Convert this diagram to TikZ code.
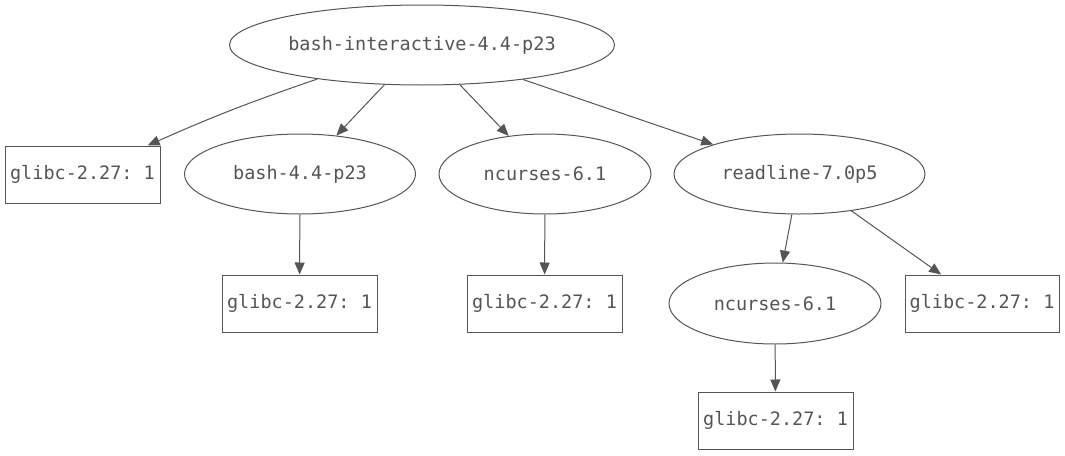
\documentclass[tikz,border=0pt]{standalone}
\usepackage{fontspec}
\setmonofont{DejaVu Sans Mono}
\usetikzlibrary{shapes.geometric,arrows.meta}
\definecolor{gv}{HTML}{555555}
\tikzset{
  base/.style={draw=gv, line width=1pt, text=gv, inner sep=0pt,
    font=\ttfamily\fontsize{18.5pt}{21pt}\selectfont},
  ell/.style={base, ellipse, minimum height=80pt},
  pkg/.style={base, rectangle, minimum width=155pt, minimum height=57pt},
  dep/.style={draw=gv, line width=1pt, -{Triangle[length=12pt,width=10pt]}, fill=none},
}
\begin{document}
\begin{tikzpicture}[x=1pt,y=-1pt]
\useasboundingbox (0,0) rectangle (1065,455);
\node[ell, minimum width=385pt] (root) at (422,45) {bash-interactive-4.4-p23};
\node[pkg] (g1) at (82.5,174.5) {glibc-2.27: 1};
\node[ell, minimum width=231pt] (bash) at (300,174) {bash-4.4-p23};
\node[ell, minimum width=212pt] (nc1) at (545,174) {ncurses-6.1};
\node[ell, minimum width=251pt] (rl) at (799.5,174) {readline-7.0p5};
\node[pkg] (g2) at (299.5,303.5) {glibc-2.27: 1};
\node[pkg] (g3) at (544.5,303.5) {glibc-2.27: 1};
\node[ell, minimum width=212pt, minimum height=81pt] (nc2) at (775,303.5) {ncurses-6.1};
\node[pkg, minimum width=154pt] (g4) at (982,303.5) {glibc-2.27: 1};
\node[pkg] (g5) at (775.5,420.5) {glibc-2.27: 1};
\draw[dep] (root.198.6) to[bend right=2.5] (g1.24.5);
\draw[dep] (root) -- (bash);
\draw[dep] (root) -- (nc1);
\draw[dep] (root) -- (rl);
\draw[dep] (bash) -- (g2);
\draw[dep] (nc1) -- (g3);
\draw[dep] (rl) -- (nc2);
\draw[dep] (rl) -- (g4);
\draw[dep] (nc2) -- (g5);
\end{tikzpicture}
\end{document}
